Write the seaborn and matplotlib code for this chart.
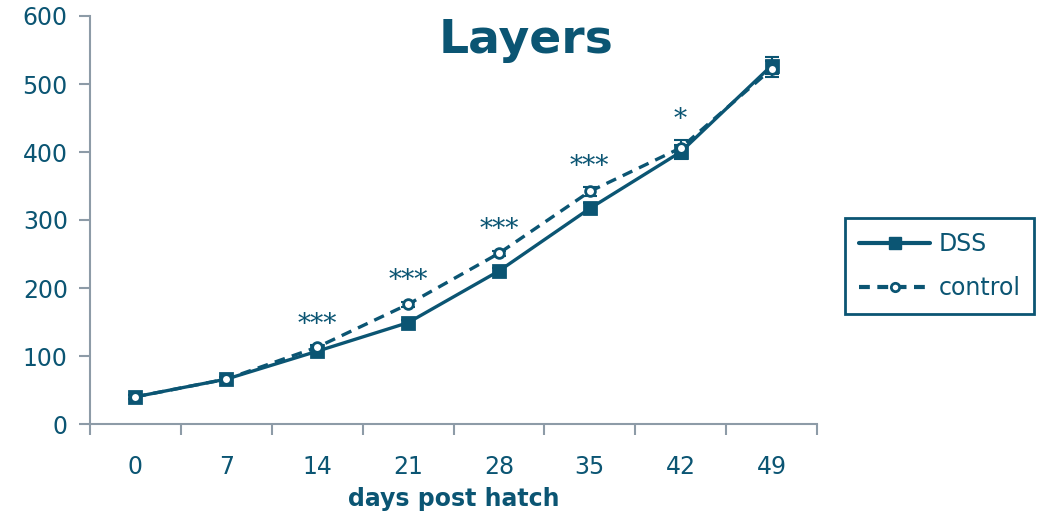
import numpy as np
import pandas as pd
import matplotlib
matplotlib.use("Agg")
import matplotlib.pyplot as plt
import seaborn as sns
from matplotlib.ticker import FixedLocator
from matplotlib.lines import Line2D

days = ["0", "7", "14", "21", "28", "35", "42", "49"]
dss = [40, 66, 107, 149, 225, 317, 400, 527]
dss_err = [3, 3, 3, 4, 4, 8, 10, 12]
control = [40, 66, 113, 176, 251, 342, 406, 522]
control_err = [3, 3, 3, 4, 4, 6, 12, 12]
stars = ["", "", "***", "***", "***", "***", "*", ""]
title = "Layers"
xlabel = "days post hatch"

C = "#0b5573"
GRAY = "#8d9ba7"

sns.set_theme(style="white")
plt.rcParams["font.family"] = ["DejaVu Sans"]

fig = plt.figure(figsize=(10.4, 5.14), dpi=100)
ax = fig.add_axes([90/1040, 1-424/514, (817-90)/1040, (424-16)/514])

pos = np.arange(len(days))
df = pd.DataFrame({
    "pos": np.concatenate([pos, pos]),
    "value": dss + control,
    "group": ["DSS"] * len(days) + ["control"] * len(days),
})

sns.lineplot(data=df, x="pos", y="value", hue="group", style="group",
             palette={"DSS": C, "control": C},
             dashes={"DSS": "", "control": (3.2, 2.2)},
             markers={"DSS": "s", "control": "o"},
             ax=ax, linewidth=2.4, markersize=8, legend=False)

for line in ax.lines:
    line.set_markeredgecolor(C)
    line.set_markeredgewidth(2)
ax.lines[1].set_markerfacecolor("white")
ax.lines[1].set_markersize(7)
ax.lines[0].set_zorder(3)
ax.lines[1].set_zorder(4)

ax.errorbar(pos, dss, yerr=dss_err, fmt="none", ecolor=C, elinewidth=1.5,
            capsize=5, capthick=1.5, zorder=2)
ax.errorbar(pos, control, yerr=control_err, fmt="none", ecolor=C, elinewidth=1.5,
            capsize=5, capthick=1.5, zorder=2)

for p, s, c, e in zip(pos, stars, control, control_err):
    if s:
        ax.text(p, c + e + 12, s, ha="center", va="bottom", color=C,
                fontsize=19, family="DejaVu Serif")

ax.set_xlim(-0.5, len(days) - 0.5)
ax.set_ylim(0, 600)
ax.set_yticks([0, 100, 200, 300, 400, 500, 600])
ax.set_xticks(pos)
ax.set_xticklabels(days)
ax.xaxis.set_minor_locator(FixedLocator(np.arange(-0.5, len(days), 1.0)))
ax.tick_params(axis="x", which="major", length=0, pad=22, labelsize=17, colors=C)
ax.tick_params(axis="x", which="minor", length=8, width=1.5, color=GRAY, bottom=True)
ax.tick_params(axis="y", which="major", length=8, width=1.5, color=GRAY,
               labelsize=17, labelcolor=C, pad=8, left=True)
for lab in ax.get_xticklabels() + ax.get_yticklabels():
    lab.set_color(C)

for side in ["top", "right"]:
    ax.spines[side].set_visible(False)
for side in ["left", "bottom"]:
    ax.spines[side].set_color(GRAY)
    ax.spines[side].set_linewidth(1.5)

ax.set_xlabel(xlabel, fontsize=17, fontweight="bold", color=C, labelpad=6)
ax.set_ylabel("")
ax.text(0.6, 0.94, title, transform=ax.transAxes, ha="center", va="center",
        fontsize=34, fontweight="bold", color=C)

handles = [
    Line2D([0], [0], color=C, lw=3, marker="s", markersize=8, markeredgecolor=C),
    Line2D([0], [0], color=C, lw=3, ls=(0, (2.6, 1.8)), marker="o", markersize=6,
           markerfacecolor="white", markeredgecolor=C, markeredgewidth=2),
]
leg = fig.legend(handles, ["DSS", "control"], loc="upper left",
                 bbox_to_anchor=(845/1040, 1-218/514), borderaxespad=0,
                 fontsize=17, frameon=True, fancybox=False, handlelength=3.0,
                 borderpad=0.6, labelspacing=0.85, handletextpad=0.35)
leg.get_frame().set_edgecolor(C)
leg.get_frame().set_linewidth(2)
leg.get_frame().set_alpha(1)
for t in leg.get_texts():
    t.set_color(C)

fig.savefig("out.png", dpi=100)
